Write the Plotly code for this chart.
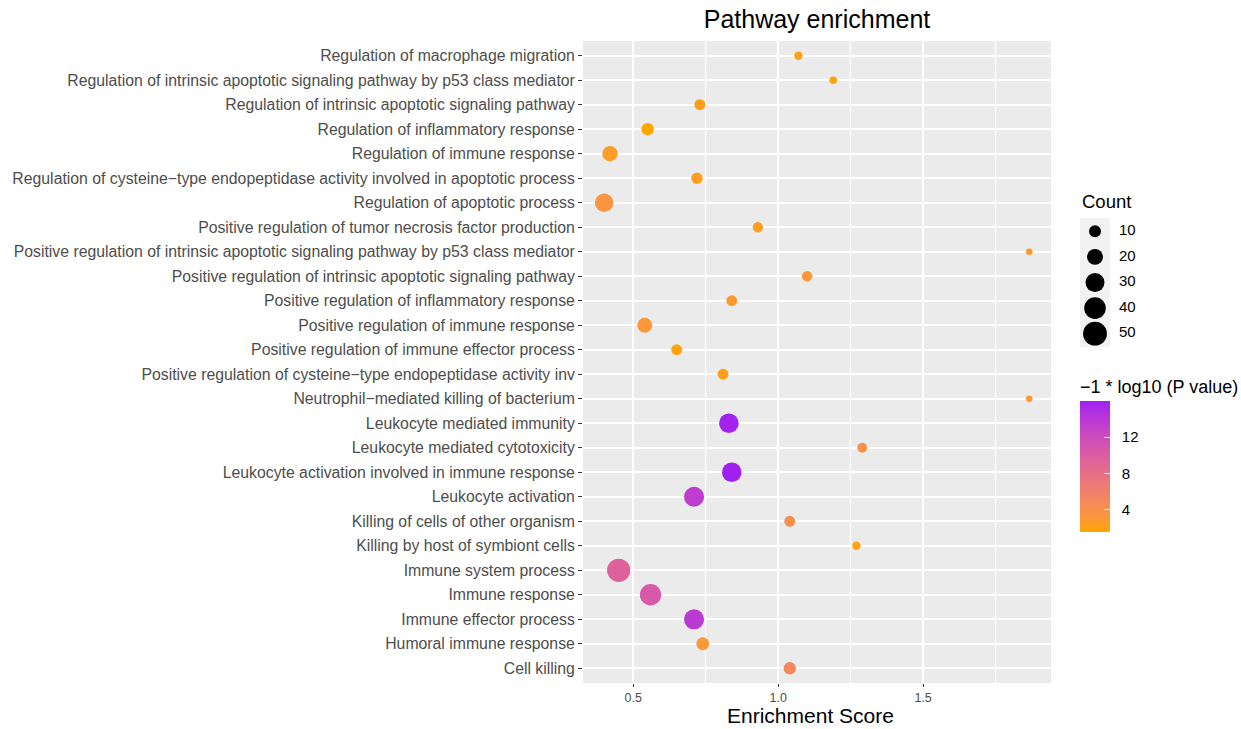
import plotly.graph_objects as go

# ---- data -------------------------------------------------------------
pathways = [
    "Regulation of macrophage migration",
    "Regulation of intrinsic apoptotic signaling pathway by p53 class mediator",
    "Regulation of intrinsic apoptotic signaling pathway",
    "Regulation of inflammatory response",
    "Regulation of immune response",
    "Regulation of cysteine−type endopeptidase activity involved in apoptotic process",
    "Regulation of apoptotic process",
    "Positive regulation of tumor necrosis factor production",
    "Positive regulation of intrinsic apoptotic signaling pathway by p53 class mediator",
    "Positive regulation of intrinsic apoptotic signaling pathway",
    "Positive regulation of inflammatory response",
    "Positive regulation of immune response",
    "Positive regulation of immune effector process",
    "Positive regulation of cysteine−type endopeptidase activity inv",
    "Neutrophil−mediated killing of bacterium",
    "Leukocyte mediated immunity",
    "Leukocyte mediated cytotoxicity",
    "Leukocyte activation involved in immune response",
    "Leukocyte activation",
    "Killing of cells of other organism",
    "Killing by host of symbiont cells",
    "Immune system process",
    "Immune response",
    "Immune effector process",
    "Humoral immune response",
    "Cell killing",
]
enrichment = [1.07, 1.19, 0.73, 0.55, 0.42, 0.72, 0.40, 0.93, 1.866, 1.10,
              0.84, 0.54, 0.65, 0.81, 1.866, 0.83, 1.29, 0.84, 0.71, 1.04,
              1.27, 0.45, 0.56, 0.71, 0.74, 1.04]
counts = [4, 3, 8, 11, 18, 9, 28, 7, 2, 7,
          8, 17, 8, 8, 2, 32, 6, 32, 34, 8,
          4, 47, 39, 34, 12, 11]
neg_log_p = [2.0, 2.0, 2.2, 1.5, 2.5, 2.4, 3.5, 2.3, 2.8, 3.0,
             2.8, 3.0, 1.8, 2.4, 3.0, 15.8, 3.8, 16.0, 13.5, 4.0,
             2.0, 9.5, 10.5, 13.8, 3.0, 5.0]

x_ticks = [0.5, 1.0, 1.5]
x_tick_labels = ["0.5", "1.0", "1.5"]
count_breaks = [10, 20, 30, 40, 50]
color_ticks = [4, 8, 12]


# ---- helpers ------------------------------------------------------------
def dot_size(c):
    """Point diameter (px) grows with the square root of the count."""
    return 2.3 + 3.05 * c ** 0.5


def _lin(v):
    v /= 255.0
    return v / 12.92 if v <= 0.04045 else ((v + 0.055) / 1.055) ** 2.4


def _gam(v):
    v = 12.92 * v if v <= 0.0031308 else 1.055 * v ** (1 / 2.4) - 0.055
    return max(0, min(255, round(v * 255)))


_WHITE = (0.95047, 1.0, 1.08883)


def hex_to_lab(h):
    r, g, b = (_lin(int(h[i:i + 2], 16)) for i in (1, 3, 5))
    x = 0.4124 * r + 0.3576 * g + 0.1805 * b
    y = 0.2126 * r + 0.7152 * g + 0.0722 * b
    z = 0.0193 * r + 0.1192 * g + 0.9505 * b

    def f(t):
        return t ** (1 / 3) if t > 0.008856 else 7.787 * t + 16 / 116
    fx, fy, fz = (f(v / w) for v, w in zip((x, y, z), _WHITE))
    return 116 * fy - 16, 500 * (fx - fy), 200 * (fy - fz)


def lab_to_hex(L, a, b):
    fy = (L + 16) / 116
    fx = fy + a / 500
    fz = fy - b / 200

    def finv(t):
        return t ** 3 if t ** 3 > 0.008856 else (t - 16 / 116) / 7.787
    x, y, z = (finv(t) * w for t, w in zip((fx, fy, fz), _WHITE))
    r = 3.2406 * x - 1.5372 * y - 0.4986 * z
    g = -0.9689 * x + 1.8758 * y + 0.0415 * z
    bb = 0.0557 * x - 0.2040 * y + 1.0570 * z
    return "#%02X%02X%02X" % (_gam(r), _gam(g), _gam(bb))


def lab_gradient(lo, hi, n=11):
    a, b = hex_to_lab(lo), hex_to_lab(hi)
    stops = []
    for i in range(n):
        t = i / (n - 1)
        stops.append([t, lab_to_hex(*(p + (q - p) * t for p, q in zip(a, b)))])
    return stops


colorscale = lab_gradient("#FFA500", "#A020F0")

# ---- geometry (pixels) ----------------------------------------------------
W, H = 1241, 729
L_M, T_M, B_M = 583, 41, 46
PANEL_R = 1051
paper_w = W - L_M
paper_h = H - T_M - B_M


def px_x(px):
    return (px - L_M) / paper_w


def px_y(py):
    return (H - B_M - py) / paper_h


GREY_TXT = "#4D4D4D"
FONT = "Liberation Sans, Arial, sans-serif"
PAD = "\u00a0\u00a0"

fig = go.Figure()

# main dot plot
fig.add_trace(go.Scatter(
    x=enrichment,
    y=pathways,
    mode="markers",
    marker=dict(
        size=[dot_size(c) for c in counts],
        color=neg_log_p,
        colorscale=colorscale,
        opacity=1,
        line=dict(width=0),
        colorbar=dict(
            title=dict(text="−1 * log10 (P value)", side="top",
                       font=dict(size=18, color="#000000", family=FONT)),
            x=px_x(1080), xanchor="left",
            y=px_y(532), yanchor="bottom",
            len=156, lenmode="pixels",
            thickness=30, thicknessmode="pixels",
            outlinewidth=0, ypad=0, xpad=0,
            tickvals=color_ticks,
            ticktext=[PAD + str(v) for v in color_ticks],
            ticks="inside", ticklen=6, tickcolor="#FFFFFF", tickwidth=1,
            tickfont=dict(size=15, color="#000000", family=FONT),
        ),
    ),
    showlegend=False,
    hovertemplate="%{y}<br>Score %{x}<extra></extra>",
))

# size key drawn in its own small axes
fig.add_trace(go.Scatter(
    x=[15] * len(count_breaks),
    y=count_breaks,
    mode="markers",
    marker=dict(size=[dot_size(c) for c in count_breaks], color="#000000",
                opacity=1, line=dict(width=0)),
    xaxis="x2", yaxis="y2", showlegend=False, hoverinfo="skip",
))
fig.add_trace(go.Scatter(
    x=[39] * len(count_breaks),
    y=count_breaks,
    mode="text",
    text=[str(c) for c in count_breaks],
    textposition="middle right",
    textfont=dict(size=15, color="#000000", family=FONT),
    xaxis="x2", yaxis="y2", showlegend=False, hoverinfo="skip",
))

main_dom = [0, px_x(PANEL_R)]

fig.update_layout(
    width=W, height=H,
    margin=dict(l=L_M, r=0, t=T_M, b=B_M, autoexpand=False),
    paper_bgcolor="#FFFFFF",
    plot_bgcolor="rgba(0,0,0,0)",
    font=dict(family=FONT, color=GREY_TXT),
    title=dict(text="Pathway enrichment", x=px_x((L_M + PANEL_R) / 2),
               xref="paper", xanchor="center",
               y=1 - 19 / H, yref="container", yanchor="middle",
               font=dict(size=25, color="#000000", family=FONT)),
    xaxis=dict(
        domain=main_dom,
        range=[0.327, 1.941],
        automargin=False,
        tickvals=x_ticks, ticktext=x_tick_labels,
        ticks="outside", ticklen=3, tickcolor="#333333", tickwidth=1,
        tickfont=dict(size=12.5, color=GREY_TXT),
        showgrid=True, gridcolor="#FFFFFF", gridwidth=1.5,
        minor=dict(dtick=0.25, tick0=0.25, showgrid=True,
                   gridcolor="#FFFFFF", gridwidth=0.7, ticks=""),
        zeroline=False, showline=False,
    ),
    yaxis=dict(
        type="category",
        categoryorder="array", categoryarray=pathways,
        range=[len(pathways) - 0.4, -0.6],
        automargin=False,
        ticks="outside", ticklen=4, tickcolor="#333333", tickwidth=1,
        tickfont=dict(size=15.8, color=GREY_TXT),
        showgrid=True, gridcolor="#FFFFFF", gridwidth=1.6,
        zeroline=False, showline=False,
    ),
    xaxis2=dict(domain=[px_x(1080), px_x(1160)], range=[0, 80],
                visible=False, fixedrange=True),
    yaxis2=dict(domain=[px_y(347), px_y(218)], range=[55.2, 4.8],
                visible=False, fixedrange=True, anchor="x2"),
    shapes=[
        dict(type="rect", xref="x domain", yref="y domain",
             x0=0, x1=1, y0=0, y1=1, fillcolor="#EBEBEB",
             line=dict(width=0), layer="below"),
        dict(type="rect", xref="x2", yref="y2 domain",
             x0=0, x1=30, y0=0, y1=1, fillcolor="#F2F2F2",
             line=dict(width=0), layer="below"),
    ],
    annotations=[
        dict(text="Count", x=px_x(1080), y=px_y(202), xref="paper",
             yref="paper", xanchor="left", yanchor="middle", showarrow=False,
             font=dict(size=18.5, color="#000000", family=FONT)),
        # x-axis title
        dict(text="Enrichment Score", x=px_x((L_M + PANEL_R) / 2) - 0.01,
             y=px_y(715.5), xref="paper", yref="paper", xanchor="center",
             yanchor="middle", showarrow=False,
             font=dict(size=21, color="#000000", family=FONT)),
    ],
)
fig.update_layout(xaxis2_anchor="y2")

fig.write_html("out.html")
